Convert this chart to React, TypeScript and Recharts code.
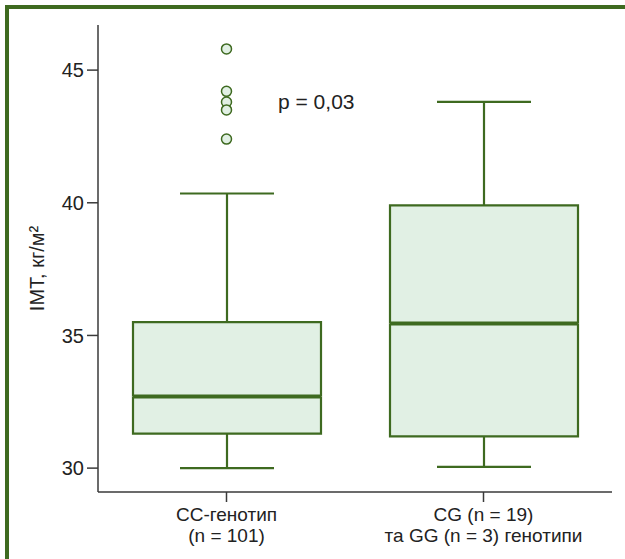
import React from 'react';
import { ComposedChart, Bar, Scatter, XAxis, YAxis } from 'recharts';

const categories = ['CC', 'CG+GG'];
const labelLine1 = ['CC-генотип', 'CG (n = 19)'];
const labelLine2 = ['(n = 101)', 'та GG (n = 3) генотипи'];
const mins = [30.0, 30.05];
const q1s = [31.3, 31.2];
const medians = [32.7, 35.45];
const q3s = [35.5, 39.9];
const maxs = [40.35, 43.8];
const outliersCC = [45.8, 44.2, 43.8, 43.5, 42.4];
const yTicks = [30, 35, 40, 45];

const GREEN = '#3e6a20';
const FILL = '#e1f0e4';
const FRAME = '#3a3a3a';
const FONT = '"Liberation Sans", Arial, sans-serif';

const data = categories.map((cat, i) => ({
  cat,
  base: mins[i],
  whiskerLow: q1s[i] - mins[i],
  boxLow: medians[i] - q1s[i],
  boxHigh: q3s[i] - medians[i],
  whiskerHigh: maxs[i] - q3s[i],
}));

const outlierData = outliersCC.map((v) => ({ cat: categories[0], out: v }));

const Empty = () => null;

const WhiskerLow = (p: any) => {
  const cx = p.x + p.width / 2;
  const cap = p.width * 0.25;
  return (
    <g stroke={GREEN} strokeWidth={2.2}>
      <line x1={cx} x2={cx} y1={p.y} y2={p.y + p.height} />
      <line x1={cx - cap} x2={cx + cap} y1={p.y + p.height} y2={p.y + p.height} />
    </g>
  );
};

const WhiskerHigh = (p: any) => {
  const cx = p.x + p.width / 2;
  const cap = p.width * 0.25;
  return (
    <g stroke={GREEN} strokeWidth={2.2}>
      <line x1={cx} x2={cx} y1={p.y} y2={p.y + p.height} />
      <line x1={cx - cap} x2={cx + cap} y1={p.y} y2={p.y} />
    </g>
  );
};

const BoxLow = (p: any) => {
  const { x, y, width, height } = p;
  return (
    <g>
      <rect x={x} y={y} width={width} height={height} fill={FILL} />
      <path
        d={`M${x},${y} L${x},${y + height} L${x + width},${y + height} L${x + width},${y}`}
        fill="none"
        stroke={GREEN}
        strokeWidth={2.2}
      />
    </g>
  );
};

const BoxHigh = (p: any) => {
  const { x, y, width, height } = p;
  return (
    <g>
      <rect x={x} y={y} width={width} height={height} fill={FILL} />
      <path
        d={`M${x},${y + height} L${x},${y} L${x + width},${y} L${x + width},${y + height}`}
        fill="none"
        stroke={GREEN}
        strokeWidth={2.2}
      />
      <line x1={x} x2={x + width} y1={y + height} y2={y + height} stroke={GREEN} strokeWidth={4} />
    </g>
  );
};

const Outlier = (p: any) => (
  <circle cx={p.cx} cy={p.cy} r={5} fill={FILL} stroke={GREEN} strokeWidth={1.5} />
);

const XTick = (p: any) => {
  const i = categories.indexOf(p.payload.value);
  return (
    <text x={p.x} y={p.y} textAnchor="middle" fontFamily={FONT} fontSize={19} fill="#222">
      <tspan x={p.x} dy={17}>{labelLine1[i]}</tspan>
      <tspan x={p.x} dy={21}>{labelLine2[i]}</tspan>
    </text>
  );
};

const YLabel = (p: any) => {
  const vb = p.viewBox || {};
  const cx = 37;
  const cy = vb.y + vb.height / 2 + 10;
  return (
    <text
      x={cx}
      y={cy}
      transform={`rotate(-90, ${cx}, ${cy})`}
      textAnchor="middle"
      dominantBaseline="central"
      fontFamily={FONT}
      fontSize={20}
      fill="#222"
    >
      IMT, кг/м²
    </text>
  );
};

export default function App() {
  return (
    <div style={{ position: 'absolute', left: 0, top: 0, width: 625, height: 559, background: '#fff' }}>
      <div
        style={{
          position: 'absolute',
          left: 5,
          top: 5,
          width: 616,
          height: 550,
          borderTop: `4px solid ${GREEN}`,
          borderLeft: `4px solid ${GREEN}`,
        }}
      />
      <div style={{ position: 'absolute', left: 0, top: 0 }}>
        <ComposedChart
          width={625}
          height={559}
          data={data}
          margin={{ top: 25, right: 13, bottom: 7, left: 0 }}
          barGap={0}
        >
          <XAxis
            dataKey="cat"
            xAxisId={0}
            allowDuplicatedCategory={false}
            height={60}
            axisLine={{ stroke: FRAME, strokeWidth: 1.5 }}
            tickLine={{ stroke: FRAME, strokeWidth: 1.5 }}
            tickSize={10}
            tick={<XTick />}
            interval={0}
          />
          <XAxis
            dataKey="cat"
            xAxisId="top"
            orientation="top"
            allowDuplicatedCategory={false}
            height={0}
            tick={false}
            tickLine={false}
            axisLine={{ stroke: FRAME, strokeWidth: 1.5 }}
          />
          <YAxis
            yAxisId={0}
            type="number"
            domain={[29.1, 46.7]}
            allowDataOverflow
            ticks={yTicks}
            width={98}
            tickSize={11}
            tickMargin={3}
            axisLine={{ stroke: FRAME, strokeWidth: 1.5 }}
            tickLine={{ stroke: FRAME, strokeWidth: 1.5 }}
            tick={{ fontFamily: FONT, fontSize: 20, fill: '#222' }}
            label={<YLabel />}
          />
          <YAxis
            yAxisId="right"
            orientation="right"
            width={0}
            tick={false}
            tickLine={false}
            axisLine={{ stroke: FRAME, strokeWidth: 1.5 }}
          />
          <Bar dataKey="base" stackId="b" barSize={188} shape={<Empty />} isAnimationActive={false} />
          <Bar dataKey="whiskerLow" stackId="b" barSize={188} shape={<WhiskerLow />} isAnimationActive={false} />
          <Bar dataKey="boxLow" stackId="b" barSize={188} shape={<BoxLow />} isAnimationActive={false} />
          <Bar dataKey="boxHigh" stackId="b" barSize={188} shape={<BoxHigh />} isAnimationActive={false} />
          <Bar dataKey="whiskerHigh" stackId="b" barSize={188} shape={<WhiskerHigh />} isAnimationActive={false} />
          <Scatter data={outlierData} dataKey="out" shape={<Outlier />} isAnimationActive={false} />
        </ComposedChart>
      </div>
      <div
        style={{
          position: 'absolute',
          left: 278,
          top: 90,
          fontFamily: FONT,
          fontSize: 21,
          color: '#222',
          whiteSpace: 'nowrap',
        }}
      >
        p = 0,03
      </div>
    </div>
  );
}
